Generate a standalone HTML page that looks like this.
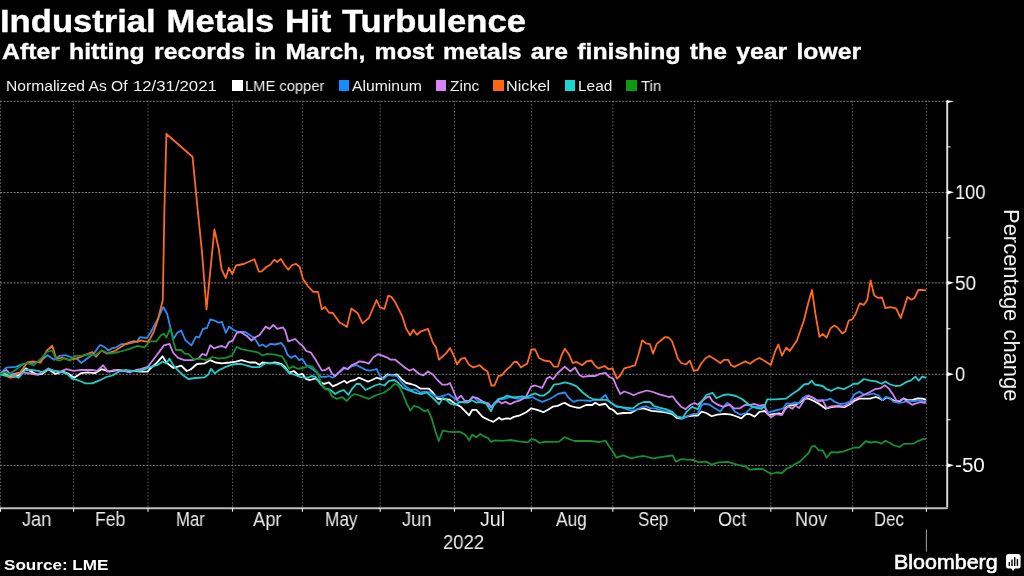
<!DOCTYPE html>
<html><head><meta charset="utf-8"><title>Industrial Metals Hit Turbulence</title>
<style>
html,body{margin:0;padding:0;background:#000;}
body{width:1024px;height:576px;position:relative;overflow:hidden;font-family:"Liberation Sans",sans-serif;color:#fff;}
.t{position:absolute;white-space:nowrap;line-height:1;transform-origin:0 0;will-change:transform;}
#title,#sub{-webkit-text-stroke:0.35px #fff;}
#bb{-webkit-text-stroke:0.6px #fff;}
.sw{position:absolute;top:80.1px;width:10.5px;height:10.5px;}
svg{position:absolute;left:0;top:0;}
</style></head><body>
<div class="t" id="title" style="left:0.00px;top:5.57px;font-size:31.16px;font-weight:bold;word-spacing:1.1px;color:#fff;transform:scaleX(1.1106)">Industrial Metals Hit Turbulence</div>
<div class="t" id="sub" style="left:2.30px;top:39.81px;font-size:22.83px;font-weight:bold;word-spacing:2.2px;color:#fff;transform:scaleX(1.0853)">After hitting records in March, most metals are finishing the year lower</div>
<div class="t" id="l0" style="left:6.40px;top:78.21px;font-size:15.43px;font-weight:normal;word-spacing:0px;color:#f0f0f0;transform:scaleX(1.0133)">Normalized As Of</div>
<div class="t" id="l0b" style="left:132.80px;top:78.21px;font-size:15.43px;font-weight:normal;word-spacing:0px;color:#f0f0f0;transform:scaleX(1.0857)">12/31/2021</div>
<div class="t" id="l1" style="left:245.20px;top:78.21px;font-size:15.43px;font-weight:normal;word-spacing:0px;color:#f0f0f0;transform:scaleX(0.9548)">LME copper</div>
<div class="t" id="l2" style="left:351.70px;top:78.21px;font-size:15.43px;font-weight:normal;word-spacing:0px;color:#f0f0f0;transform:scaleX(1.0193)">Aluminum</div>
<div class="t" id="l3" style="left:449.50px;top:78.21px;font-size:15.43px;font-weight:normal;word-spacing:0px;color:#f0f0f0;transform:scaleX(1.0055)">Zinc</div>
<div class="t" id="l4" style="left:506.20px;top:78.21px;font-size:15.43px;font-weight:normal;word-spacing:0px;color:#f0f0f0;transform:scaleX(1.0500)">Nickel</div>
<div class="t" id="l5" style="left:577.90px;top:78.21px;font-size:15.43px;font-weight:normal;word-spacing:0px;color:#f0f0f0;transform:scaleX(0.9938)">Lead</div>
<div class="t" id="l6" style="left:641.00px;top:78.21px;font-size:15.43px;font-weight:normal;word-spacing:0px;color:#f0f0f0;transform:scaleX(0.9732)">Tin</div>
<div class="t" id="y100" style="left:955.30px;top:182.40px;font-size:20.00px;font-weight:normal;word-spacing:0px;color:#fff;transform:scaleX(0.9154)">100</div>
<div class="t" id="y50" style="left:955.30px;top:272.90px;font-size:20.00px;font-weight:normal;word-spacing:0px;color:#fff;transform:scaleX(0.9551)">50</div>
<div class="t" id="y0" style="left:955.30px;top:364.30px;font-size:20.00px;font-weight:normal;word-spacing:0px;color:#fff;transform:scaleX(0.9169)">0</div>
<div class="t" id="y-50" style="left:955.30px;top:455.40px;font-size:20.00px;font-weight:normal;word-spacing:0px;color:#fff;transform:scaleX(1.0326)">-50</div>
<div class="t" id="m1" style="left:22.00px;top:509.74px;font-size:19.71px;font-weight:normal;word-spacing:0px;color:#ececec;transform:scaleX(0.9260)">Jan</div>
<div class="t" id="m2" style="left:95.30px;top:509.74px;font-size:19.71px;font-weight:normal;word-spacing:0px;color:#ececec;transform:scaleX(0.8928)">Feb</div>
<div class="t" id="m3" style="left:175.50px;top:509.74px;font-size:19.71px;font-weight:normal;word-spacing:0px;color:#ececec;transform:scaleX(0.8494)">Mar</div>
<div class="t" id="m4" style="left:252.82px;top:509.74px;font-size:19.71px;font-weight:normal;word-spacing:0px;color:#ececec;transform:scaleX(0.9318)">Apr</div>
<div class="t" id="m5" style="left:324.67px;top:509.74px;font-size:19.71px;font-weight:normal;word-spacing:0px;color:#ececec;transform:scaleX(0.8749)">May</div>
<div class="t" id="m6" style="left:402.23px;top:509.74px;font-size:19.71px;font-weight:normal;word-spacing:0px;color:#ececec;transform:scaleX(0.9307)">Jun</div>
<div class="t" id="m7" style="left:480.07px;top:509.74px;font-size:19.71px;font-weight:normal;word-spacing:0px;color:#ececec;transform:scaleX(0.9952)">Jul</div>
<div class="t" id="m8" style="left:556.35px;top:509.74px;font-size:19.71px;font-weight:normal;word-spacing:0px;color:#ececec;transform:scaleX(0.8792)">Aug</div>
<div class="t" id="m9" style="left:638.10px;top:509.74px;font-size:19.71px;font-weight:normal;word-spacing:0px;color:#ececec;transform:scaleX(0.8649)">Sep</div>
<div class="t" id="m10" style="left:718.22px;top:509.74px;font-size:19.71px;font-weight:normal;word-spacing:0px;color:#ececec;transform:scaleX(0.9155)">Oct</div>
<div class="t" id="m11" style="left:795.33px;top:509.74px;font-size:19.71px;font-weight:normal;word-spacing:0px;color:#ececec;transform:scaleX(0.9153)">Nov</div>
<div class="t" id="m12" style="left:874.25px;top:509.74px;font-size:19.71px;font-weight:normal;word-spacing:0px;color:#ececec;transform:scaleX(0.8510)">Dec</div>
<div class="t" id="yr" style="left:443.00px;top:531.70px;font-size:20.00px;font-weight:normal;word-spacing:0px;color:#ececec;transform:scaleX(0.9258)">2022</div>
<div class="t" id="src" style="left:4.20px;top:559.07px;font-size:13.77px;font-weight:bold;word-spacing:0px;color:#fff;transform:scaleX(1.2408)">Source: LME</div>
<div class="t" id="bb" style="left:893.80px;top:551.86px;font-size:20.29px;font-weight:normal;word-spacing:0px;color:#fff;transform:scaleX(1.0572)">Bloomberg</div>
<div class="sw" style="left:232.1px;background:#fff"></div><div class="sw" style="left:338.8px;background:#148cff"></div><div class="sw" style="left:435.8px;background:#d784fa"></div><div class="sw" style="left:493.2px;background:#ff6410"></div><div class="sw" style="left:564.8px;background:#18d6d0"></div><div class="sw" style="left:626.2px;background:#0e9a10"></div>
<svg width="1024" height="576" viewBox="0 0 1024 576">
<g stroke="#5e5e5e" stroke-width="1" stroke-dasharray="1.6,1.8" fill="none"><line x1="0.5" y1="100.8" x2="0.5" y2="508.2"/><line x1="73.6" y1="100.8" x2="73.6" y2="508.2"/><line x1="148" y1="100.8" x2="148" y2="508.2"/><line x1="232.5" y1="100.8" x2="232.5" y2="508.2"/><line x1="302.4" y1="100.8" x2="302.4" y2="508.2"/><line x1="380.2" y1="100.8" x2="380.2" y2="508.2"/><line x1="454.5" y1="100.8" x2="454.5" y2="508.2"/><line x1="531.4" y1="100.8" x2="531.4" y2="508.2"/><line x1="612.8" y1="100.8" x2="612.8" y2="508.2"/><line x1="694.4" y1="100.8" x2="694.4" y2="508.2"/><line x1="770.8" y1="100.8" x2="770.8" y2="508.2"/><line x1="852.6" y1="100.8" x2="852.6" y2="508.2"/><line x1="926.4" y1="100.8" x2="926.4" y2="508.2"/></g><g stroke="#7e7e7e" stroke-width="1" stroke-dasharray="2,1.4" fill="none"><line x1="0" y1="101.3" x2="947.2" y2="101.3"/><line x1="0" y1="192.5" x2="947.2" y2="192.5"/><line x1="0" y1="282.9" x2="947.2" y2="282.9"/><line x1="0" y1="374.3" x2="947.2" y2="374.3"/><line x1="0" y1="465.4" x2="947.2" y2="465.4"/></g>
<polyline fill="none" stroke="#ffffff" stroke-width="1.8" stroke-linejoin="round" stroke-linecap="butt" points="0,374 6.3,373.9 11.7,377 18.8,375.5 25.8,368.4 31.3,371.6 37.5,374.7 42.2,373.9 48.4,369.2 55.5,373.9 62.5,371.6 68.8,373.9 74.2,377.8 81.3,373.1 87.5,372.3 95.3,373.1 101.6,369.2 109.4,371.6 117.2,370 125,370.8 132.8,370.8 140.6,371.6 147.7,371.6 150,368.8 156.3,363.3 162.5,356.3 166.4,362.5 173.4,368 181.3,365.6 186.7,371 190.6,369.5 196.9,364 204.7,363.3 210.2,360.2 215.6,362.5 221.9,363.3 229.7,362.5 236,361.7 241.4,360.2 250,362.5 255.5,362.5 259.4,364.8 262.5,362.5 270.3,363.3 275,362.5 281.3,364 285.2,367.2 289,372.7 293.8,371 298.4,375 302.3,373.8 306.3,379.2 310,380 315.6,378.4 320.3,382.3 324.2,383.9 328.9,382.3 332.8,386.3 336.7,384.7 341.4,382.3 344.5,380.8 346.9,383 350.8,380.8 354.7,380 358.6,377.7 362.5,379.2 368,381.6 371.9,380 376.6,377.7 381.3,379.2 384.4,376.9 387.5,374.5 392.2,375.3 396.9,374.5 401.6,379.2 406.3,383 411,384 415.6,385.5 420.3,388.6 425,388.6 428.9,388.6 432.8,392.5 437.5,398.8 442.2,399 449.7,399.7 455,403.6 460.6,406.7 465.3,411.4 469.2,415.3 472.3,409.8 476.3,409.8 482.5,416.9 488.75,420 493.4,421.9 499,417.7 502,419.7 506,418.4 510.6,418.75 513.75,416.9 520,415.3 526.25,412.2 531.25,408.3 537.2,409.8 543.4,412.2 548,409.8 552.8,406.7 557.5,405.9 564.5,402.8 570,405.9 576.25,407.5 580,407.8 586,405 592.2,405 595.3,402.7 599.2,405 605.5,403.75 609.4,408.4 613.3,410 617.2,413.9 623.4,413 631.25,412.8 637.5,409.2 643.75,408.4 651.6,410.8 659.4,411.6 665.6,412.3 671.9,413.9 676.6,417.8 681.25,418.6 687.5,416.25 693.75,415.5 697.7,415.5 701.6,411.6 706.25,413 711.7,416.25 717.2,414.7 725,413.9 731.25,414.7 736,416.25 741.4,418.3 746,413.9 750,414.2 754.7,416.6 759.4,411.9 764.8,411 768.75,415 773.4,414.2 778.9,413.4 782,414.2 786,407.2 789.8,405.6 795.3,404.8 800,402.5 804,398.6 808.6,398.6 814,401 820.3,404.8 825.8,408.75 831.25,407.2 837.5,406.4 844.5,407.2 850,404 854,401 859.4,398.6 865.6,398.6 870,398.6 875.5,397 878.6,397.8 882.5,400.2 886.4,397.5 890.3,398.6 895,401.25 899.7,401.25 903.6,398.3 907.5,400.2 912.2,400.2 917.7,398.3 922.3,398.6 926.25,399.7"/><polyline fill="none" stroke="#2a8df4" stroke-width="1.8" stroke-linejoin="round" stroke-linecap="butt" points="0,374 6.3,367.7 15.6,366.9 23.4,363.8 31.3,363 37.5,362.2 43,359 47.7,355.2 53.9,359.8 59.4,355.9 65.6,355.2 71.9,357.5 77.3,359 81.3,363 87.5,358.3 93.8,353.6 100,345 103.9,346.6 108.6,350.5 112.5,348.1 116.4,347.3 121.1,344.2 126.6,344.2 132.8,342.7 137.5,341.1 139.8,337.2 146.9,338 150,333.6 154.7,325 159.4,315.6 163.3,307 167.2,314 170.3,327.3 173.4,339 177.3,332.8 181.3,330.5 185.2,339.8 191.4,345.3 196,336.7 199.2,337.5 203,328.9 207,328 210.2,319.5 214,320.3 218.8,322.7 221.9,321.9 225.8,332.8 228.9,326.6 234.4,330.5 239.8,332 245.3,332 250,335.2 254.7,338.3 259.4,346 262.5,344.5 266.4,346.9 270.3,343.8 275,344.5 281.3,343 284.4,346.9 287.5,354.7 291.4,357.8 295.3,355.5 299.2,360.2 302.3,358.9 306.3,365.2 310,367.5 315.6,371.4 321,376.9 325.8,376.9 328.9,376 332.8,377.7 336.7,374.5 340.6,371.4 344.5,368.3 347.7,369 352.3,366 357,365.2 361,367.5 365.6,369.8 370.3,370.6 376.6,369 379.7,375.3 383.6,379.2 387.5,375.3 392.2,375.3 396.9,376 401.6,382.3 406.3,387 411,390 415.6,389.4 420.3,392.5 425,391.7 429.7,392.5 434.4,395.6 439,397.2 443.8,395.6 448.4,394 453,397.2 454.7,398.8 459.4,401.9 464,402.7 468.8,401.9 472.7,396.4 477.3,400.3 481.3,402.7 486,403.4 491,407.3 494.5,402.7 499.2,399.5 504,398.8 509.4,397.2 514,398 518.8,398.8 523.4,398 528,398 532.8,397.2 536.7,399.5 542.2,401.9 548.4,399.5 553,397.2 557.8,394 564.8,392.5 568.8,398 573.4,401.9 578,400.3 584.4,400.3 590.6,401 595.3,399.5 600,399.7 605.5,395 608.6,400.6 614,405.3 620.3,406.9 626.6,409.2 631.25,410.8 637.5,409.3 642.5,406.9 646.25,406.25 650,408.1 655,408.3 662,410.6 667,411.6 672.7,413 676.6,416.25 682.8,418.6 689,415.5 693.75,413.9 697.7,413.9 701.6,405.3 704.7,403.75 709.4,404.5 714,407.7 720.3,411.6 724.2,406 727.3,403 731.25,406.9 735,411.6 740.6,414.7 746,413 750,408.75 754.7,406.4 759.4,407.2 764.8,406.4 768,412.7 773.4,411 779.7,409.5 783.6,408 786.7,403.3 790.6,404 794.5,402.5 798.4,403.3 803,397.8 807,395.5 811.7,397.8 817.2,400.2 822.7,400.2 826.6,400.2 830.5,398.6 834.4,401.7 839.8,404 845.3,403.3 850,401.7 854,394.7 859.4,391.6 864,394.7 868.75,394.7 873.4,393.5 878.6,395.5 882.5,400.2 885.6,397 889.5,397.8 893.4,401.7 899,402.8 903.6,402.2 908.3,400.6 913.75,401.25 918.4,400.2 923,401 926.25,401.25"/><polyline fill="none" stroke="#d180f2" stroke-width="1.8" stroke-linejoin="round" stroke-linecap="butt" points="0,374 6.3,370 11,374.7 17.2,373.1 23.4,372.3 28,373.1 36,374.7 41.4,373.1 48.4,368.4 53.1,370.8 60.2,371.6 66.4,369.2 73.4,370.8 81.3,370 92.2,370 96.9,370.8 103.1,365.3 107.8,371.6 114,370 123.4,370.8 129.7,372.3 136,370 140.6,369.2 147.7,366.9 150,364 154.7,357.8 159.4,351.6 164,345.3 169.5,343.8 173.4,353 178,357.8 184.4,360.2 192.2,360.2 198.4,358.6 202.3,353.9 206.3,355.5 210.2,345.3 214,348.4 218,346.9 221.9,346 225.8,347.7 228.9,342.2 232.8,340.6 236.7,332.8 240.6,332 246.9,336 251.6,340.6 254.7,337.5 259.4,335.2 265.6,326.6 269.5,328.9 273.4,325 277.3,328.9 282.8,327.3 285.2,330.5 288.3,341.4 295.3,339 300,344 302.3,345.6 306.3,351 311,352.7 315.6,359.7 321.9,370.6 325.8,369.8 328.9,367.5 332,373.8 335.2,376 339.8,371.4 343.8,367.5 347.7,369 351.6,365.2 355.5,363.6 359.4,361.3 364,362 368.8,363.6 373.4,357.3 378,354.2 382.8,355.8 386.7,357.3 390.6,359.7 395.3,359.7 400,363.6 404.7,367.5 409.4,370.6 413.3,369 418.8,373.8 423.4,375.3 428,371.4 432.8,374.5 437.5,380 442.2,384.7 446.9,384.7 450,383 453,390 457,399.5 461,395.6 464.8,401 468.8,401 472.7,397.2 477.3,398 483.6,401.9 488.3,403.4 491.4,407.3 495.3,403.4 498.4,401 501.6,403.4 505.5,401.9 510.2,404.2 514.8,401.9 520.3,400.3 525.8,397.2 531.3,386.3 535.2,385.5 542.2,387.8 546.9,378.4 550,376.9 553,379.2 557.8,373 564.8,366.7 570.3,371.4 575,367.5 579,374.5 582.8,376.9 589,376 595.3,376 600,373.9 605.5,373 609.4,377 613.3,378.6 616.4,386.4 620.3,394 624.2,391.5 629,393 633.6,395.3 639,392.8 646.9,390.5 653,392 659.4,394.4 664,395.6 668.75,397 672.7,396.3 676.6,401.7 681.25,406.8 685.5,409.1 690.6,404.7 694.5,403 697.7,404.7 701.6,401.3 707,397.3 709.4,396.3 712.5,401.3 717.2,404.4 723.4,406.8 729.7,404.4 734,408.4 739.5,408.4 745,405 750,404.8 754.7,404 759.4,405.6 764,404.8 767.2,413.4 771,417.3 775.8,414.2 782,415 785,409.5 788.3,406.4 792.2,408.75 795.3,405.6 799.2,408 804,400.2 808.6,395.5 813.3,397.8 818.75,401.7 822.7,400.2 826.6,408 831.25,406.4 837.5,405.6 843.75,406.4 850,403.3 854,399.4 859.4,397 864,394.7 870,392 874.7,389.2 880,388.4 884.8,385.3 888.75,388.4 892.7,393.9 896.6,401 900.5,400.6 903.6,398.6 907.5,401.7 912.2,404.8 916,403.3 920,402.2 924,402.8 926.25,402.5"/><polyline fill="none" stroke="#ff6a22" stroke-width="1.8" stroke-linejoin="round" stroke-linecap="butt" points="0,373.9 11,377.8 20.3,372.3 27.3,362.5 32.8,361.4 40.6,362.5 46.9,350.5 52.3,345.8 56.3,359 62.5,357.5 68.8,359.8 76.6,358.3 81.3,356.7 92.2,352 96,356.7 101.6,350.5 107,353.6 115.6,350.5 125,344.2 133.6,341.1 137.5,341.9 140.6,340.3 147.7,341.9 150,339 153.9,331.3 157.8,320.3 160.9,307.8 162.8,300 164.4,210 166.4,134 192.5,156.7 197.7,210 202,252 206.5,309.5 210.8,265.8 214.4,229.5 218.8,249 221.6,269.4 225.8,278 228.9,267.8 232.3,274 236,265.5 243.8,264 254.4,259.2 258.9,271.7 261.7,271.3 266.4,267 270.3,264.7 274.2,259.7 277.3,262 280.9,258.9 284.4,264.7 288.3,269.8 292.2,265 296,263.9 299.7,267 303,279 307.8,286 313.3,291.9 318,291.9 321.9,309.4 325,307 328.9,312.5 332.8,313 339.8,322.7 343,324.2 346.9,326.9 351.3,308.6 357.8,313.3 362.5,323.4 368.8,318 376.6,300 379.7,307 384.4,309 388.3,295.6 391.4,296.9 395.3,302.3 402.3,316.4 406.3,328.9 410.2,335.2 413.3,329.7 416.9,334.8 421,331.3 428,328.9 432.8,342.5 436,347.2 439,359.7 446,353.4 450,348 453.9,355.8 457,364.4 461,358.9 464.8,357.8 468.8,364.4 473.4,367.5 479.7,365.2 483.6,369 487.5,371.4 491.4,385.5 494.5,385.5 498.4,376 501.6,375.3 506.3,369.8 510.2,366.7 514,362 517.2,362 521,367.5 524.2,365.2 527.3,363.6 531.3,349.5 535.2,349.5 539,358 543.8,360.5 550,361.3 553.9,366.7 557.8,366.7 561.7,355 564.8,348.8 568.8,354.2 572.7,362.8 576.6,362 582,365.2 586.7,361.3 591.4,360.5 595.3,366 598.4,368.3 603,366.7 604.7,366 608.6,369.2 612.5,368.4 616.9,378.6 620.3,375.5 624.2,368.4 629.7,366.9 635,365.3 639,352.8 642.2,340.3 646,343.4 650,344.2 653,353.6 656.6,344.2 661,340.3 664.8,337.2 668.75,337.5 671.9,341 675,349.7 678,359 681.25,363 686,364.5 689.8,360.6 693.75,370.8 697.7,370 701.6,363 705.5,358.3 709.4,356 715.6,359.8 720.3,363 724.2,359.8 728,359.8 731.25,365.3 734.4,366.9 739,364.5 745.3,361.4 750,363.75 754.7,360.3 759.4,358 764.8,361 770.8,365 775,351.7 778.4,344.5 782,355.7 786.25,347.6 789.8,351 796.9,340.5 803.9,320.5 808,304 812,290 815.6,315 819.5,336.9 822.7,334 826.6,337.7 830.5,328.3 834.4,325.6 837.5,327.5 842.2,333.4 845.3,331.4 848.75,320.5 852.3,319.4 855.5,314.2 859.7,303.3 864,304.8 867.2,300 870.6,280.3 874.2,295.5 878,297.8 882,297.5 885.3,308 890.6,307.2 896,308.4 900.8,318 904,308 907.3,297 911.4,299.7 914.5,298 918.4,290 922.3,289.8 926.25,290.3"/><polyline fill="none" stroke="#20cdca" stroke-width="1.8" stroke-linejoin="round" stroke-linecap="butt" points="0,374.7 6.3,375.5 12.5,375.5 18.8,377.8 25,370 31.3,370 38.3,370.8 42.2,372.3 48.4,369.2 54.7,370.8 62.5,372.3 67.2,373.9 71.9,378.6 78.1,380.2 85.2,383.3 92.2,383.3 100,380.2 106.3,377 112.5,375.5 118.8,371.6 125,370 132.8,370.8 140.6,370.8 148.4,367.7 157.8,364.8 162.5,361.7 166.4,363.3 169.5,358.6 173.4,365.6 178,370.3 182.8,375 188.3,379 195.3,378 204.7,377.3 208.6,374.2 211,368.8 214.8,373.4 218.8,370.3 225,367.2 231.3,364.8 236,364 241.4,364 246.9,365.6 252.3,367.2 259.4,367.2 265.6,363.3 275,363.3 281.3,364.8 286,369.5 289.8,373.4 295.3,375 300,376.9 304,377.7 307.8,377.7 311.7,376 315.6,376.9 320.3,384 325,388.6 329.7,389.4 335.2,394 339,391.7 343.8,390 348.4,394.8 352.3,388.6 356.3,384 360,384 365.6,390 370.3,387.8 375,385.5 379.7,384 384.4,385.5 389,380.8 394.5,380 398.4,383 403,387.8 407.8,390 412.5,391.7 417.2,393.3 421.9,394 426.6,392.5 431.3,396.4 436,401 439,404.2 443,398 446,399.5 450,403.4 454.7,405 458.6,402.7 462.5,401.9 467.2,402.7 471.9,400.3 476.6,402.7 481.3,401.9 486,403.4 491,411.3 494.5,403.4 498.4,398.8 503,398 507,395.6 512.5,397.2 517.2,397.2 521.9,396.4 526.6,397.2 531.3,394.8 535.2,393.3 539.8,395.6 543.8,395.6 549.2,391.7 553.9,384.7 559.4,383.9 564.8,382.3 571,383.9 576.6,386.3 582.8,392.5 589,397.2 593.8,399.5 600,399.8 606.25,399.8 612.5,403.75 617.2,406.9 625,407.7 632.8,408.4 639,403.75 643.75,402 650,402 654,406 659.4,407.7 665.6,409.2 671.9,411.6 676.6,416.25 682.8,417.8 686.7,411.6 692,406.9 697.7,409.2 701.6,402 706.25,395 712.5,392.8 716.4,398.3 723.4,395 728,394.4 736,396 742,399 746.9,403 750,405.6 756.25,408 761.7,408.75 764.8,405.6 767.2,399.4 775,399.4 786,398.6 792.2,394 798.4,390 804,384.5 808.6,383.75 811.7,380.6 814.8,384.5 822.7,386 826.6,389.2 831.25,390.8 837.5,387.7 843.75,389.2 850,386 854,383.75 857.8,383.75 864,379 870,380.6 876.25,381.4 881.7,383.75 885.3,381.4 890.3,384.5 895.8,386 900.5,385.6 906,382.2 910.6,380.6 915.3,376.7 918.75,380.6 922.3,376.7 926.25,377.8"/><polyline fill="none" stroke="#169032" stroke-width="1.8" stroke-linejoin="round" stroke-linecap="butt" points="0,374 4.7,372.3 9.4,373.9 15.6,370 22.7,364.5 27.3,363 33.6,365.3 40.6,359 46.9,352 52.3,350.5 56.3,359.8 60.2,360.6 64,358.3 70.3,360.6 74.2,355.9 81.3,355.9 89,354.4 95.3,355.2 101.6,350.5 109.4,353.6 118.8,352 129.7,348.9 137.5,345.8 144.5,347.3 150,341.4 156.3,341.4 160.9,335.2 164,333.6 166.4,337.5 170.3,328.1 173.4,341.4 175.8,350 181.3,350 185.2,353.9 188.3,353.9 193.8,359.4 200,358.6 206.3,360.2 212.5,357 218.8,358.6 225.8,357.8 232,355.5 236.7,346.9 241.4,349.2 250,350.8 257.8,352.3 262.5,355.5 267.2,353.9 275,354.7 282,356.3 286,362.5 289,368.8 293,366.4 297.7,368.8 304.7,367.5 308.6,366 312.5,366.7 317.2,372.2 321.9,384.7 325.8,389.4 328.9,390 332,396.4 336.7,398.8 342.2,397.2 346.9,401 350.8,396.4 354.7,394 360,395.6 368.8,398.8 375,395.6 379.7,394 384.4,392.5 389.8,388.6 394.5,383.9 398.4,385.5 402.3,392.5 406.3,402.7 410.2,410.5 414,405.8 418.8,407.3 424.7,411.4 427.8,409.8 431.7,418.4 435.6,431.7 438.8,441 442.7,430.6 448,431.7 454.4,432.2 459.8,431.7 465.3,434.8 469.2,440.3 472.3,434.8 476.3,437.2 480.2,434 484,436.4 488,438 491,441.9 495,440.3 502.8,440.8 510.6,440 518.4,441.4 527.8,442.3 531.25,439.2 535.6,440 539.5,443 545,441.6 551.25,441.9 559,441.6 564.5,437.2 570,439.5 574.7,441 580,440.8 590,441 600,442 605.5,440.5 609.4,446.7 613.3,452.2 616.4,457.7 623.4,455.3 631.25,458.4 637.5,456.9 643.75,456 653,458.4 662.5,456.9 668.75,456 672.7,455.3 675.8,461.6 681.25,459.2 687.5,459.7 693.75,460 698.4,462.3 706.25,461.6 711.7,464.7 718.75,462.3 728,461.9 734.4,463.9 740.6,465.5 745.3,466.25 750,469.7 756.25,469 762.5,469 767.2,471.7 771,474 776.6,472.5 782,473 786.7,468.6 790.6,467 795.3,463.9 800,461.6 804.7,456.9 808.6,453 811.7,446.7 814.8,446 818.75,450.3 822.7,450.3 826.6,457.7 831.25,452.2 837.5,452.5 843.75,451.4 850,449 854.7,447.5 859.4,447.5 865.6,441.25 871,442.5 875.8,441.6 881.7,443.6 885.3,440.8 889.5,442.8 894.2,445.5 899.7,447 903.6,443.9 913.75,443.6 918.4,440.8 923,439.2 926.25,438.9"/>
<path d="M947.2,100.4 V507.2" fill="none" stroke="#d6d6d6" stroke-width="2"/><path d="M948.2,507.2 Q948.2,509.2 946.2,509.2 H0 V507.2 H946.2 Z" fill="#bebebe"/><path d="M947,100.2 L954,101.2 L947,103.3 Z" fill="#fff"/><path d="M947,190.2 L954,192.3 L947,194.4 Z" fill="#fff"/><path d="M947,280.7 L954,282.8 L947,284.9 Z" fill="#fff"/><path d="M947,372.1 L954,374.2 L947,376.3 Z" fill="#fff"/><path d="M947,463.2 L954,465.3 L947,467.4 Z" fill="#fff"/><line x1="947" y1="146.9" x2="950.5" y2="146.9" stroke="#fff" stroke-width="1"/><line x1="947" y1="237.9" x2="950.5" y2="237.9" stroke="#fff" stroke-width="1"/><line x1="947" y1="328.8" x2="950.5" y2="328.8" stroke="#fff" stroke-width="1"/><line x1="947" y1="419.8" x2="950.5" y2="419.8" stroke="#fff" stroke-width="1"/><line x1="0.5" y1="508.2" x2="0.5" y2="511.7" stroke="#f0f0f0" stroke-width="1.1"/><line x1="73.6" y1="508.2" x2="73.6" y2="511.7" stroke="#f0f0f0" stroke-width="1.1"/><line x1="148" y1="508.2" x2="148" y2="511.7" stroke="#f0f0f0" stroke-width="1.1"/><line x1="232.5" y1="508.2" x2="232.5" y2="511.7" stroke="#f0f0f0" stroke-width="1.1"/><line x1="302.4" y1="508.2" x2="302.4" y2="511.7" stroke="#f0f0f0" stroke-width="1.1"/><line x1="380.2" y1="508.2" x2="380.2" y2="511.7" stroke="#f0f0f0" stroke-width="1.1"/><line x1="454.5" y1="508.2" x2="454.5" y2="511.7" stroke="#f0f0f0" stroke-width="1.1"/><line x1="531.4" y1="508.2" x2="531.4" y2="511.7" stroke="#f0f0f0" stroke-width="1.1"/><line x1="612.8" y1="508.2" x2="612.8" y2="511.7" stroke="#f0f0f0" stroke-width="1.1"/><line x1="694.4" y1="508.2" x2="694.4" y2="511.7" stroke="#f0f0f0" stroke-width="1.1"/><line x1="770.8" y1="508.2" x2="770.8" y2="511.7" stroke="#f0f0f0" stroke-width="1.1"/><line x1="852.6" y1="508.2" x2="852.6" y2="511.7" stroke="#f0f0f0" stroke-width="1.1"/><line x1="926.4" y1="508.2" x2="926.4" y2="511.7" stroke="#f0f0f0" stroke-width="1.1"/>
<line x1="926.4" y1="529.5" x2="926.4" y2="551.7" stroke="#a0a0a0" stroke-width="1"/>
<g id="bbicon"><rect x="1006" y="554" width="14.6" height="14.6" rx="2.5" fill="#fff"/><path d="M1011,568 h4 l-2,3 z" fill="#fff"/>
<rect x="1008.6" y="562" width="1.4" height="4" fill="#000"/><rect x="1011.3" y="559.5" width="1.4" height="6.5" fill="#000"/><rect x="1014" y="557" width="1.4" height="9" fill="#000"/><rect x="1016.7" y="559" width="1.4" height="7" fill="#000"/></g>
</svg>
<div class="t" id="ytitle" style="left:1021.71px;top:209px;font-size:21.9px;word-spacing:2px;color:#f2f2f2;transform:rotate(90deg) scaleX(1.0033)">Percentage change</div>
</body></html>
